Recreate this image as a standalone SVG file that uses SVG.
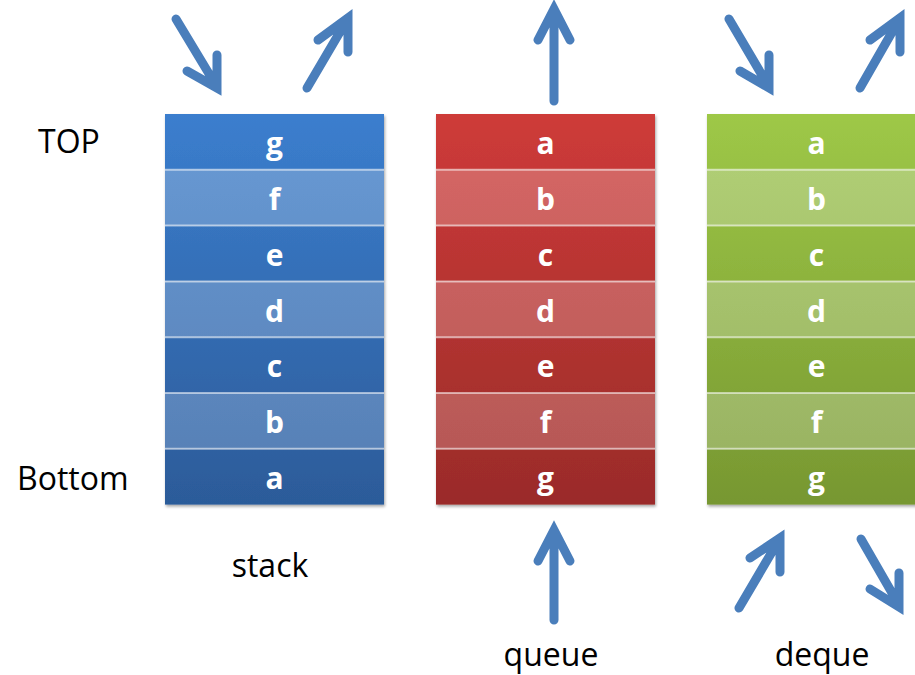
<svg xmlns="http://www.w3.org/2000/svg" width="915" height="675" viewBox="0 0 915 675">
<defs>
<linearGradient id="sD" gradientUnits="userSpaceOnUse" x1="0" y1="114" x2="0" y2="505"><stop offset="0" stop-color="#3B7ECE"/><stop offset="1" stop-color="#2C5B99"/></linearGradient>
<linearGradient id="sL" gradientUnits="userSpaceOnUse" x1="0" y1="114" x2="0" y2="505"><stop offset="0" stop-color="#699BD6"/><stop offset="1" stop-color="#557DB2"/></linearGradient>
<linearGradient id="qD" gradientUnits="userSpaceOnUse" x1="0" y1="114" x2="0" y2="505"><stop offset="0" stop-color="#CE3B39"/><stop offset="1" stop-color="#9A2B29"/></linearGradient>
<linearGradient id="qL" gradientUnits="userSpaceOnUse" x1="0" y1="114" x2="0" y2="505"><stop offset="0" stop-color="#D96866"/><stop offset="1" stop-color="#B15654"/></linearGradient>
<linearGradient id="dD" gradientUnits="userSpaceOnUse" x1="0" y1="114" x2="0" y2="505"><stop offset="0" stop-color="#9EC847"/><stop offset="1" stop-color="#779731"/></linearGradient>
<linearGradient id="dL" gradientUnits="userSpaceOnUse" x1="0" y1="114" x2="0" y2="505"><stop offset="0" stop-color="#B3D277"/><stop offset="1" stop-color="#96AF60"/></linearGradient>
<filter id="sh" x="-5%" y="-5%" width="115%" height="115%"><feGaussianBlur in="SourceAlpha" stdDeviation="1.5"/><feOffset dx="1" dy="2"/><feComponentTransfer><feFuncA type="linear" slope="0.35"/></feComponentTransfer><feMerge><feMergeNode/><feMergeNode in="SourceGraphic"/></feMerge></filter>
<style>
.cell{font-family:"Open Sans","Liberation Sans",sans-serif;font-weight:bold;font-size:30px;fill:#fff;text-anchor:middle}
.lbl{font-family:"Open Sans","Liberation Sans",sans-serif;font-size:32px;fill:#000}
.sep{stroke:#fff;stroke-opacity:0.55;stroke-width:2}
.arr{fill:none;stroke:#4A7EBB;stroke-width:9;stroke-linecap:round;stroke-linejoin:miter}
</style>
</defs>
<rect width="915" height="675" fill="#fff"/>

<g id="stack">
<g filter="url(#sh)">
<rect x="165" y="114" width="219" height="55.8" fill="url(#sD)"/>
<rect x="165" y="169.8" width="219" height="55.8" fill="url(#sL)"/>
<rect x="165" y="225.6" width="219" height="55.8" fill="url(#sD)"/>
<rect x="165" y="281.4" width="219" height="55.8" fill="url(#sL)"/>
<rect x="165" y="337.2" width="219" height="55.8" fill="url(#sD)"/>
<rect x="165" y="393" width="219" height="55.8" fill="url(#sL)"/>
<rect x="165" y="448.8" width="219" height="55.8" fill="url(#sD)"/>
</g>
<path class="sep" d="M165 169.8H384M165 225.6H384M165 281.4H384M165 337.2H384M165 393H384M165 448.8H384"/>
<text class="cell" x="274.5" y="154">g</text>
<text class="cell" x="274.5" y="210">f</text>
<text class="cell" x="274.5" y="266">e</text>
<text class="cell" x="274.5" y="322">d</text>
<text class="cell" x="274.5" y="377">c</text>
<text class="cell" x="274.5" y="433">b</text>
<text class="cell" x="274.5" y="489">a</text>
</g>

<g id="queue">
<g filter="url(#sh)">
<rect x="436" y="114" width="219" height="55.8" fill="url(#qD)"/>
<rect x="436" y="169.8" width="219" height="55.8" fill="url(#qL)"/>
<rect x="436" y="225.6" width="219" height="55.8" fill="url(#qD)"/>
<rect x="436" y="281.4" width="219" height="55.8" fill="url(#qL)"/>
<rect x="436" y="337.2" width="219" height="55.8" fill="url(#qD)"/>
<rect x="436" y="393" width="219" height="55.8" fill="url(#qL)"/>
<rect x="436" y="448.8" width="219" height="55.8" fill="url(#qD)"/>
</g>
<path class="sep" d="M436 169.8H655M436 225.6H655M436 281.4H655M436 337.2H655M436 393H655M436 448.8H655"/>
<text class="cell" x="545.5" y="154">a</text>
<text class="cell" x="545.5" y="210">b</text>
<text class="cell" x="545.5" y="266">c</text>
<text class="cell" x="545.5" y="322">d</text>
<text class="cell" x="545.5" y="377">e</text>
<text class="cell" x="545.5" y="433">f</text>
<text class="cell" x="545.5" y="489">g</text>
</g>

<g id="deque">
<g filter="url(#sh)">
<rect x="707" y="114" width="219" height="55.8" fill="url(#dD)"/>
<rect x="707" y="169.8" width="219" height="55.8" fill="url(#dL)"/>
<rect x="707" y="225.6" width="219" height="55.8" fill="url(#dD)"/>
<rect x="707" y="281.4" width="219" height="55.8" fill="url(#dL)"/>
<rect x="707" y="337.2" width="219" height="55.8" fill="url(#dD)"/>
<rect x="707" y="393" width="219" height="55.8" fill="url(#dL)"/>
<rect x="707" y="448.8" width="219" height="55.8" fill="url(#dD)"/>
</g>
<path class="sep" d="M707 169.8H926M707 225.6H926M707 281.4H926M707 337.2H926M707 393H926M707 448.8H926"/>
<text class="cell" x="816.5" y="154">a</text>
<text class="cell" x="816.5" y="210">b</text>
<text class="cell" x="816.5" y="266">c</text>
<text class="cell" x="816.5" y="322">d</text>
<text class="cell" x="816.5" y="377">e</text>
<text class="cell" x="816.5" y="433">f</text>
<text class="cell" x="816.5" y="489">g</text>
</g>

<g id="labels">
<text class="lbl" x="38" y="153">TOP</text>
<text class="lbl" x="17" y="490">Bottom</text>
<text class="lbl" x="270" y="577" text-anchor="middle">stack</text>
<text class="lbl" x="551" y="666" text-anchor="middle">queue</text>
<text class="lbl" x="822" y="666" text-anchor="middle">deque</text>
</g>

<g id="connectors">
<path class="arr" d="M176 19L217 87M187 71L217 88L217 55"/>
<path class="arr" d="M307 88L347 20M318 40L348 18L348 52"/>
<path class="arr" d="M554 101V12M538 40L554 9L570 40"/>
<path class="arr" d="M554 620V532M538 561L554 530L570 561"/>
<path class="arr" d="M729 19L769 87M740 71L769 88L769 55"/>
<path class="arr" d="M860 88L899 20M870 40L900 18L900 52"/>
<path class="arr" d="M739 608L779 540M750 558L780 538L780 572"/>
<path class="arr" d="M861 539L899 605M870 589L899 607L899 573"/>
</g>
</svg>
